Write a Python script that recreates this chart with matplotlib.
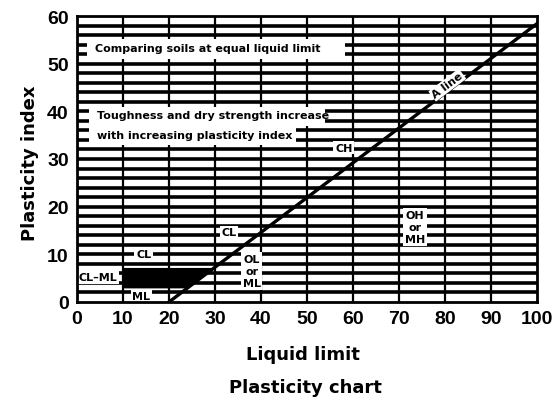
import matplotlib
matplotlib.use("Agg")
import matplotlib.pyplot as plt
from matplotlib.patches import Rectangle, Polygon

# ---- data ----
x_ticks = [0, 10, 20, 30, 40, 50, 60, 70, 80, 90, 100]
y_ticks = [0, 10, 20, 30, 40, 50, 60]
grid_pi = [2, 4, 6, 8, 10, 12, 14, 16, 18, 20, 22, 24, 26, 28, 30,
           32, 34, 36, 38, 40, 42, 44, 46, 48, 50, 52, 54, 56, 58]
grid_ll = [10, 20, 30, 40, 50, 60, 70, 80, 90]
a_line_ll = [20, 100]
a_line_pi = [0, 58.4]
band_ll = [10, 10, 29.5, 24.0]
band_pi = [3, 7, 7, 3]
zone_labels = ["CH", "CL", "CL", "CL\u2013ML", "ML", "OL\nor\nML", "OH\nor\nMH"]
zone_ll = [58, 33, 14.5, 4.5, 14, 38, 73.5]
zone_pi = [32.4, 14.6, 10, 5.2, 1.2, 6.5, 15.7]
note_texts = ["Comparing soils at equal liquid limit",
              "Toughness and dry strength increase",
              "with increasing plasticity index"]
note_ll = [[2.2, 58.3], [2.6, 54.0], [2.6, 47.5]]
note_pi = [[51.0, 55.2], [37.0, 41.0], [33.0, 37.0]]
note_text_pi = [53.3, 39.3, 35.0]

fig = plt.figure(figsize=(5.55, 4.02), dpi=100)
ax = fig.add_axes([77/555, 1-303/402, 460/555, 286/402])
ax.set_xlim(0, 100)
ax.set_ylim(0, 60)

for p in grid_pi:
    ax.axhline(p, color="black", lw=2.6, zorder=1)
for l in grid_ll:
    ax.axvline(l, color="black", lw=1.6, zorder=1)

# note boxes
for (l0, l1), (p0, p1) in zip(note_ll, note_pi):
    ax.add_patch(Rectangle((l0, p0), l1 - l0, p1 - p0, facecolor="white",
                           edgecolor="none", zorder=2))
for t, (l0, l1), tp in zip(note_texts, note_ll, note_text_pi):
    ax.text(l0 + 1.8, tp, t, fontsize=8, fontweight="bold", ha="left",
            va="center", zorder=3, family="DejaVu Sans")

# CL-ML band
ax.add_patch(Polygon(list(zip(band_ll, band_pi)), closed=True,
                     facecolor="black", edgecolor="black", zorder=3))

# A-line
ax.plot(a_line_ll, a_line_pi, color="black", lw=2.4, zorder=4)
ax.text(80.5, 45.5, "A line", rotation=37, fontsize=8, fontweight="bold",
        ha="center", va="center", zorder=5,
        bbox=dict(facecolor="white", edgecolor="none", pad=1.0))

for t, l, p in zip(zone_labels, zone_ll, zone_pi):
    ax.text(l, p, t, fontsize=8, fontweight="bold", ha="center", va="center",
            zorder=5, linespacing=1.25,
            bbox=dict(facecolor="white", edgecolor="none", pad=1.2))

for s in ax.spines.values():
    s.set_linewidth(2.0)
    s.set_zorder(6)

ax.set_xticks(x_ticks)
ax.set_yticks(y_ticks)
ax.tick_params(length=0, pad=6)
for lab in ax.get_xticklabels() + ax.get_yticklabels():
    lab.set_fontfamily("Liberation Sans")
    lab.set_fontweight("bold")
    lab.set_fontsize(14)

fig.text(30/555, 1-163/402, "Plasticity index", rotation=90, ha="center",
         va="center", fontsize=13, fontweight="bold")
fig.text(303/555, 1-355/402, "Liquid limit", ha="center", va="center",
         fontsize=13, fontweight="bold")
fig.text(305/555, 1-388/402, "Plasticity chart", ha="center", va="center",
         fontsize=13, fontweight="bold")

fig.savefig("out.png", dpi=100, facecolor="white")
